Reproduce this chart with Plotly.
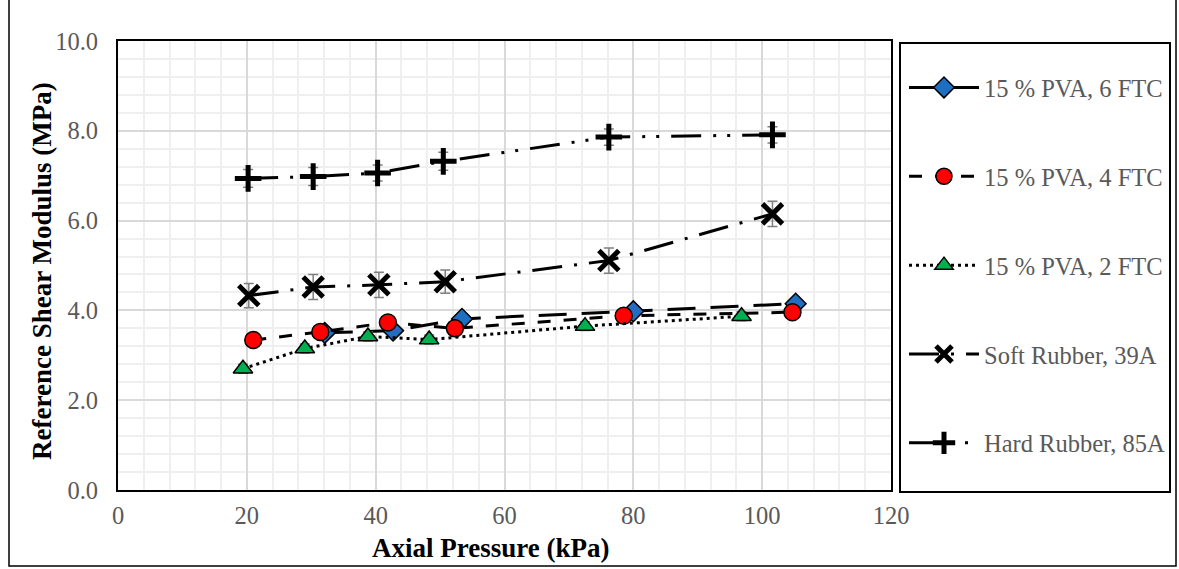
import plotly.graph_objects as go

# ---- data ----
series_names = ["15 % PVA, 6 FTC", "15 % PVA, 4 FTC", "15 % PVA, 2 FTC",
                "Soft Rubber, 39A", "Hard Rubber, 85A"]

pva6_x = [32.1, 42.7, 53.4, 80.0, 105.2]
pva6_y = [3.50, 3.55, 3.81, 3.98, 4.15]
pva6_err = [0.06, 0.06, 0.06, 0.06, 0.06]

pva4_x = [21.0, 31.4, 41.9, 52.3, 78.5, 104.7]
pva4_y = [3.34, 3.52, 3.73, 3.60, 3.88, 3.96]
pva4_err = [0.06, 0.06, 0.06, 0.06, 0.06, 0.06]

pva2_x = [19.4, 29.0, 38.8, 48.3, 72.5, 96.8]
pva2_y = [2.70, 3.15, 3.42, 3.35, 3.65, 3.87]
pva2_err = [0.10, 0.10, 0.10, 0.10, 0.10, 0.10]

soft_x = [20.3, 30.3, 40.5, 50.8, 76.2, 101.6]
soft_y = [4.33, 4.52, 4.57, 4.64, 5.11, 6.15]
soft_err = [0.27, 0.28, 0.28, 0.26, 0.28, 0.28]

hard_x = [20.2, 30.3, 40.3, 50.5, 76.2, 101.6]
hard_y = [6.94, 6.98, 7.06, 7.32, 7.86, 7.91]
hard_err = [0.20, 0.20, 0.18, 0.20, 0.18, 0.18]

x_ticks = [0, 20, 40, 60, 80, 100, 120]
y_ticks = [0, 2, 4, 6, 8, 10]

FONT = "Liberation Serif"
GRAY_TXT = "#595959"
ERR_COLOR = "#7F7F7F"
TXT_SIZE = 24.5
TITLE_SIZE = 27

fig = go.Figure()

def add(name, xs, ys, errs, dash, symbol, size, fill, mline_w, mline_color, group):
    fig.add_trace(go.Scatter(
        x=xs, y=ys, name=name, mode="lines+markers",
        legendgroup=group,
        line=dict(color="black", width=3, dash=dash),
        marker=dict(symbol=symbol, size=size, color=fill,
                    line=dict(color=mline_color, width=mline_w)),
        error_y=dict(type="data", array=errs, visible=True,
                     color=ERR_COLOR, thickness=1.5, width=5),
    ))

add(series_names[0], pva6_x, pva6_y, pva6_err, "28px,15px", "diamond", 16, "#1F6FC0", 1.5, "black", "g1")
add(series_names[1], pva4_x, pva4_y, pva4_err, "13px,13px", "circle", 17, "#FF0000", 1.5, "black", "g2")
add(series_names[2], pva2_x, pva2_y, pva2_err, "3px,4px", "triangle-up", 17, "#00B050", 1.5, "black", "g3")
add(series_names[3], soft_x, soft_y, soft_err, "30px,12px,3px,12px", "x-thin", 20, "black", 5, "black", "g4")
add(series_names[4], hard_x, hard_y, hard_err, "30px,12px,3px,11px,3px,12px", "cross-thin", 19, "black", 5, "black", "g5")

# body margin is removed by post_script -> figure fills the window exactly
OFF = 0
W, H = 1179 - OFF, 569 - OFF
# plot area in window pixel coordinates
L_win, R_win, T_win, B_win = 118, 891, 41, 490
L, R, T, B = L_win - OFF, R_win - OFF, T_win - OFF, B_win - OFF
pw, ph = R - L, B - T

def wx(px):  # window px -> paper x
    return (px - OFF - L) / pw

def wy(py):  # window px -> paper y
    return (B - (py - OFF)) / ph

shapes = [
    # outer chart border
    dict(type="rect", xref="paper", yref="paper",
         x0=wx(9), x1=wx(1176), y0=wy(566), y1=wy(-2),
         line=dict(color="black", width=1.5), layer="below"),
    # legend box
    dict(type="rect", xref="paper", yref="paper",
         x0=wx(900), x1=wx(1170), y0=wy(492), y1=wy(43),
         line=dict(color="black", width=2)),
]

annotations = [
    dict(text="<b>Axial Pressure (kPa)</b>", xref="paper", yref="paper",
         x=wx(490), y=wy(548), xanchor="center", yanchor="middle", showarrow=False,
         font=dict(family=FONT, size=TITLE_SIZE, color="black")),
    dict(text="<b>Reference Shear Modulus (MPa)</b>", xref="paper", yref="paper",
         x=wx(42), y=wy(271), xanchor="center", yanchor="middle", showarrow=False,
         textangle=-90,
         font=dict(family=FONT, size=TITLE_SIZE, color="black")),
]

fig.update_layout(
    width=W, height=H,
    margin=dict(l=L, r=W - R, t=T, b=H - B, pad=0, autoexpand=False),
    paper_bgcolor="white", plot_bgcolor="white",
    font=dict(family=FONT, size=TXT_SIZE, color=GRAY_TXT),
    shapes=shapes,
    annotations=annotations,
    showlegend=True,
    legend=dict(
        x=wx(904), y=wy(65), xanchor="left", yanchor="top",
        bgcolor="rgba(0,0,0,0)", borderwidth=0,
        font=dict(family=FONT, size=TXT_SIZE, color=GRAY_TXT),
        itemwidth=70, tracegroupgap=54, traceorder="grouped",
    ),
    xaxis=dict(
        range=[0, 120], tickvals=x_ticks, ticktext=[str(v) for v in x_ticks],
        automargin=False,
        showline=True, mirror=True, linecolor="black", linewidth=2,
        showgrid=True, gridcolor="#D9D9D9", gridwidth=2,
        minor=dict(dtick=4, showgrid=True, gridcolor="#EFEFEF", gridwidth=1.5),
        ticks="outside", ticklen=3, tickcolor="rgba(0,0,0,0)",
        zeroline=False,
        tickfont=dict(family=FONT, size=TXT_SIZE, color=GRAY_TXT),
    ),
    yaxis=dict(
        range=[0, 10], tickvals=y_ticks, ticktext=[f"{v:.1f}" for v in y_ticks],
        automargin=False,
        showline=True, mirror=True, linecolor="black", linewidth=2,
        showgrid=True, gridcolor="#D9D9D9", gridwidth=2,
        minor=dict(dtick=0.4, showgrid=True, gridcolor="#EFEFEF", gridwidth=1.5),
        ticks="outside", ticklen=13, tickcolor="rgba(0,0,0,0)",
        zeroline=False,
        tickfont=dict(family=FONT, size=TXT_SIZE, color=GRAY_TXT),
    ),
)

fig.write_html(
    "out.html",
    config={"displayModeBar": False},
    post_script="document.body.style.margin='0';document.body.style.overflow='hidden';",
)
